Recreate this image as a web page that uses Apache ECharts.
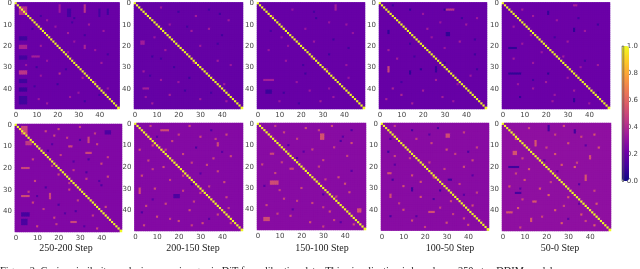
<!DOCTYPE html>
<html><head><meta charset="utf-8">
<style>html,body{margin:0;padding:0;background:#fff;overflow:hidden}#c{width:640px;height:269px;filter:blur(0.3px)}</style>
<script src="https://cdn.jsdelivr.net/npm/echarts@6/dist/echarts.min.js"></script>
</head><body><div id="c"></div>
<script>
// Values are eyeball estimates from the picture: a background level per panel plus
// visible patches [row, col, value, rows, cols]. Individual cells are not legible in the source.
const stepLabels = ['250-200 Step','200-150 Step','150-100 Step','100-50 Step','50-0 Step'];
const tickLabels = ['0.0','0.2','0.4','0.6','0.8','1.0'];
const baseLevels = [0.2,0.19,0.195,0.195,0.205,0.26,0.27,0.28,0.28,0.3];
const topA = [[2,2,.42,4,4],[20,2,.38,2,4],[32,2,.44,2,4],[16,2,.1,2,4],[25,2,.11,2,4],[36,2,.1,2,4],[40,2,.09,2,4],[44,2,.1,4,4],
 [1,33,.44,4,1],[20,33,.38,2,1],[1,21,.34,4,1],[3,25,.11,4,2],[3,40,.11,4,1],[3,44,.1,3,1],[25,8,.36,1,4],[33,21,.42],[14,25,.36],[8,15,.35],[10,35,.35],
 [20,12,.35],[30,30,.36],[35,32,.37],[44,26,.35],[16,16,.34],[28,41,.35],[12,8,.1],[38,20,.1],[30,10,.1],[22,38,.34],[47,15,.35],[46,33,.1],[7,28,.1],[40,44,.34],
 [11,19,.33],[13,42,.34],[18,28,.33],[23,25,.34],[27,15,.33],[29,5,.34],[34,12,.33],[37,38,.34],[42,30,.33],[45,11,.34],[6,12,.11],[9,27,.11],[15,33,.11],[24,44,.11],[31,24,.11],[39,9,.11],[43,40,.11]];
const topB = [[2,12,.34],[6,28,.35],[5,39,.1],[9,8,.1],[13,26,.35],[18,3,.35,2,2],[22,14,.35],[25,8,.1],[27,38,.35],[32,4,.35],[35,25,.1],[38,41,.36],[40,4,.36,1,3],
 [43,16,.36],[45,30,.35],[47,8,.36],[41,23,.1],[30,18,.1],[15,40,.1],[12,34,.35],[20,30,.34],[8,43,.34],[36,12,.34],[46,42,.35],[4,20,.1],[28,27,.34],
 [10,16,.33],[16,9,.33],[24,24,.33],[29,44,.33],[33,33,.33],[37,20,.33],[44,5,.33],[3,34,.11],[11,24,.11],[19,38,.11],[26,12,.11],[34,7,.11],[42,35,.11]];
const topC = [[1,36,.36,3,1],[6,7,.33],[12,22,.33],[17,35,.1],[18,26,.34],[22,5,.33],[27,13,.33],[29,41,.33],[36,3,.36,1,5],[37,18,.33],[41,4,.09,2,3],[42,12,.1],[41,24,.33],
 [44,35,.34],[46,29,.36],[10,41,.33],[7,27,.1],[24,33,.1],[33,22,.1],[16,11,.33],[46,10,.33],[31,32,.34],
 [3,16,.32],[9,33,.32],[14,44,.32],[20,14,.32],[26,25,.32],[35,42,.32],[40,33,.32],[4,26,.11],[13,6,.11],[21,42,.11],[29,21,.11],[38,38,.11],[47,19,.11]];
const topD = [[3,30,.08],[3,14,.08],[3,31,.44,1,4],[13,4,.07,2,1],[14,31,.07,2,2],[30,4,.5,3,1],[32,14,.07,2,1],[30,26,.08,3,1],[31,19,.07],[12,22,.36],[18,37,.36],[22,4,.36],
 [26,8,.36],[36,26,.36],[40,6,.38],[43,10,.39],[45,3,.37],[47,15,.37],[38,36,.34],[10,40,.35],[7,45,.34],[24,44,.1],[31,45,.1],[28,30,.1],[19,14,.1],[41,20,.36],[44,29,.36],
 [5,20,.33],[9,28,.33],[16,24,.33],[21,30,.33],[34,42,.34],[42,42,.34],[1,6,.1],[7,38,.1],[17,44,.1],[25,16,.11],[37,10,.11],[46,34,.34]];
const topE = [[4,21,.08,2,1],[1,33,.37,1,2],[6,14,.35],[11,5,.35],[12,33,.07,2,1],[18,30,.35],[21,3,.07,1,4],[25,28,.36],[26,5,.36],[33,3,.07,1,6],[33,21,.07],[37,20,.36],
 [41,33,.36],[44,8,.08],[45,33,.07,2,1],[10,44,.1],[15,13,.35],[30,36,.35],[40,14,.35],[46,23,.35],[3,9,.36],[29,44,.35],
 [8,25,.34],[13,38,.34],[19,9,.34],[23,18,.34],[28,14,.34],[35,30,.34],[38,7,.34],[43,24,.34],[47,40,.34],[7,35,.11],[16,24,.11],[27,38,.11],[36,14,.11],[42,44,.11]];
const botA = [[1,3,.5,4,3],[8,5,.46,2,3],[3,14,.5],[5,18,.5],[2,20,.5],[10,25,.5,1,2],[13,33,.5,1,3],[9,38,.5],[3,42,.13,2,3],[6,34,.5,3,1],[20,3,.5,1,4],[16,8,.5],[16,34,.13],
 [23,20,.5],[26,9,.5],[33,3,.52,1,4],[32,16,.5,3,1],[30,25,.5],[34,34,.5],[38,42,.5],[41,3,.11,2,4],[44,3,.12,3,3],[47,10,.5],[43,18,.5],[45,26,.5,1,3],[40,28,.13],[37,20,.13],[28,40,.13],[24,43,.5],[18,40,.5],[12,15,.13],[7,30,.13],[36,8,.5],[48,38,.5],[22,33,.13],[29,14,.13],
 [1,30,.47],[4,37,.47],[6,24,.47],[11,11,.47],[14,21,.47],[15,43,.47],[19,17,.47],[21,27,.47],[25,33,.47],[27,25,.47],[31,6,.47],[35,29,.47],[39,13,.47],[42,36,.47],[46,19,.47],[9,17,.15],[17,27,.15],[26,39,.15],[33,10,.15],[41,23,.15],[47,32,.15]];
const botB = [[3,12,.52,1,4],[1,25,.5],[6,30,.5],[10,8,.52],[12,2,.5],[5,42,.5],[9,38,.52,2,1],[14,22,.5],[17,6,.5],[20,13,.52],[19,33,.5],[24,3,.52],[24,22,.5],[27,41,.52],[30,9,.52],[32,30,.5],[33,18,.13,2,3],
 [35,35,.52],[38,5,.5],[37,14,.5],[40,25,.52],[42,38,.5],[43,10,.52],[45,20,.52],[46,31,.52],[47,4,.5],[30,2,.52,3,1],[8,17,.5],[15,44,.5],[22,38,.5],[11,28,.13],[28,26,.13],[3,35,.13],[41,3,.13],[46,44,.52],[34,42,.5],[16,36,.5],
 [1,7,.48],[5,20,.48],[7,37,.48],[12,14,.48],[18,26,.48],[21,8,.48],[26,16,.48],[29,34,.48],[31,22,.48],[36,27,.48],[39,43,.48],[44,16,.48],[47,26,.48],[6,10,.16],[13,40,.16],[23,30,.16],[35,8,.16],[44,34,.16]];
const botC = [[2,22,.52],[5,29,.54,3,2],[1,34,.52],[4,12,.5],[3,43,.13],[9,43,.52],[12,25,.5],[14,6,.5,1,2],[17,30,.5],[19,2,.5],[21,15,.5,1,2],[23,8,.5],[25,37,.52],[27,6,.52,2,4],[28,40,.53],
 [30,20,.5],[32,42,.53],[35,12,.5],[37,25,.5],[38,4,.5],[41,33,.53],[43,15,.5],[44,3,.52,2,3],[46,24,.53],[47,44,.53],[40,46,.54,2,2],[33,30,.13],[16,18,.13],[8,38,.13],[24,24,.13],[10,14,.14],[45,35,.5],
 [1,8,.48],[3,28,.48],[7,18,.48],[11,35,.48],[15,41,.48],[18,11,.48],[20,28,.48],[26,31,.48],[31,10,.48],[34,36,.48],[36,18,.48],[39,30,.48],[42,9,.48],[48,30,.48],[6,39,.16],[13,21,.16],[22,43,.16],[29,3,.16],[40,16,.16],[46,38,.16]];
const botD = [[3,14,.11],[2,26,.12],[7,4,.13],[13,3,.1],[5,30,.52,2,2],[12,30,.53],[10,10,.52],[15,6,.5],[18,22,.5],[20,38,.52],[23,3,.53,1,2],[26,5,.11],[26,31,.1,1,2],[24,14,.53],[29,10,.53],
 [30,14,.1,2,1],[31,27,.1],[33,4,.52,2,1],[34,18,.53],[36,32,.52],[38,42,.53],[40,10,.53],[41,22,.53,1,3],[43,4,.12],[45,14,.53],[46,30,.53],[47,40,.53],[27,18,.53],[17,42,.52],[9,23,.5],[13,40,.13],[35,24,.13],[44,38,.52],
 [1,6,.48],[4,38,.48],[7,16,.48],[11,44,.48],[14,34,.48],[16,13,.48],[21,29,.48],[25,24,.48],[28,36,.48],[32,44,.48],[37,8,.48],[39,27,.48],[42,33,.48],[48,20,.48],[5,22,.16],[19,6,.16],[24,42,.16],[33,38,.16],[43,16,.16]];
const botE = [[1,21,.11,3,1],[3,33,.1,2,1],[1,28,.53],[7,6,.56],[8,15,.56,3,1],[9,30,.55],[13,5,.54,2,2],[14,24,.56],[15,40,.54,2,1],[20,3,.1,1,5],[19,27,.56],[21,12,.56],[20,33,.6],[24,38,.55,3,1],[26,10,.55],[29,3,.56],
 [33,21,.6],[32,6,.11,1,3],[34,30,.56],[36,14,.56,1,2],[37,43,.56],[39,7,.56],[40,24,.58],[42,36,.56],[44,13,.56,2,1],[46,27,.58],[47,42,.58],[30,17,.56],[17,19,.15],[11,44,.55],[5,42,.55],[41,2,.55,1,3],[28,35,.15],
 [2,12,.5],[5,24,.5],[6,36,.5],[11,20,.5],[16,9,.5],[18,34,.5],[23,6,.5],[27,22,.5],[31,42,.5],[35,9,.5],[38,28,.5],[43,18,.5],[45,38,.5],[48,8,.5],[10,38,.17],[22,25,.17],[30,8,.17],[37,35,.17],[44,30,.17]];
const panelSpots = [topA,topB,topC,topD,topE,botA,botB,botC,botD,botE];
const plasma = ['#0d0887','#46039f','#7201a8','#9c179e','#bd3786','#d8576b','#ed7953','#fb9f3a','#fdca26','#f0f921'];

const boxes = [[12,2,107.5,107],[134,2,109,107],[257,2,108,107],[379,2,108,107],[502,2,108,107],
               [13,124,109,108],[134.5,123,108.5,108],[257,123,109,107],[381,123,108,107.5],[502,123,109,108]];
const stepCentres = [66,193,322,450,560];
const axisText = {color:'#444',fontFamily:'DejaVu Sans',fontSize:7};
const idx = Array.from({length:50},(_,i)=>String(i));

function mix(v){ // same ramp as the visualMap, used for the panel backdrop so cell seams do not show
  const t=v*(plasma.length-1),i=Math.floor(t),f=t-i;
  const c=s=>[1,3,5].map(k=>parseInt(s.substr(k,2),16));
  const a=c(plasma[i]),b=c(plasma[Math.min(i+1,plasma.length-1)]);
  return 'rgb('+a.map((x,k)=>Math.round(x+(b[k]-x)*f)).join(',')+')';
}
function panelData(p){
  const cells = [];
  for(let r=0;r<50;r++) for(let c=0;c<50;c++) cells.push([c,r,baseLevels[p]]);
  panelSpots[p].forEach(([r,c,v,h=1,w=1])=>{
    for(let i=r;i<r+h;i++) for(let j=c;j<c+w;j++) if(i<50&&j<50) cells[i*50+j][2]=v;
  });
  for(let i=0;i<50;i++) cells[i*50+i][2]=1;
  return cells;
}
const grid=[],xAxis=[],yAxis=[],series=[];
boxes.forEach((b,p)=>{
  grid.push({left:b[0],top:b[1],width:b[2],height:b[3],show:true,borderWidth:0,backgroundColor:mix(baseLevels[p])});
  const ax={type:'category',data:idx,axisLine:{show:false},splitArea:{show:false},splitLine:{show:false},
    axisTick:{alignWithLabel:true,interval:9,length:2,lineStyle:{color:'#555',width:.6}},
    axisLabel:Object.assign({interval:9,margin:3},axisText),gridIndex:p};
  xAxis.push(ax);
  yAxis.push(Object.assign({},ax,{inverse:true}));
  series.push({type:'heatmap',xAxisIndex:p,yAxisIndex:p,data:panelData(p),progressive:0,animation:false,
    itemStyle:{borderWidth:0},emphasis:{disabled:true}});
});
grid.push({left:622,top:46,width:7,height:135,show:true,borderColor:'#555',borderWidth:.6,backgroundColor:'transparent',z:10});
xAxis.push({type:'value',gridIndex:10,show:false,min:0,max:1});
yAxis.push({type:'value',gridIndex:10,position:'right',min:0,max:1,interval:.2,splitLine:{show:false},
  axisLine:{show:false},axisTick:{show:true,length:2,lineStyle:{color:'#555',width:.6}},
  axisLabel:Object.assign({margin:3,formatter:v=>tickLabels[Math.round(v*5)]},axisText)});

const graphic = stepLabels.map((t,i)=>({type:'text',x:stepCentres[i],y:243.5,
  style:{text:t,align:'center',fill:'#222',font:'10px "Liberation Serif"'}}));
graphic.push({type:'text',x:0,y:266.5,style:{text:'Figure 2: Cosine similarity analysis across images in DiT for calibration data. This visualization is based on a 250-step DDIM model',
  fill:'#222',font:'10.4px "Liberation Serif"'}});

const chart = echarts.init(document.getElementById('c'),null,{renderer:'canvas',width:640,height:269});
chart.setOption({animation:false,grid,xAxis,yAxis,series,graphic,
  visualMap:{type:'continuous',min:0,max:1,seriesIndex:[0,1,2,3,4,5,6,7,8,9],inRange:{color:plasma},
    left:622,top:46,itemWidth:7,itemHeight:135,text:['',''],textGap:0,calculable:false,realtime:false,hoverLink:false,
    padding:0,showLabel:false,textStyle:{fontSize:0}}});
</script></body></html>
